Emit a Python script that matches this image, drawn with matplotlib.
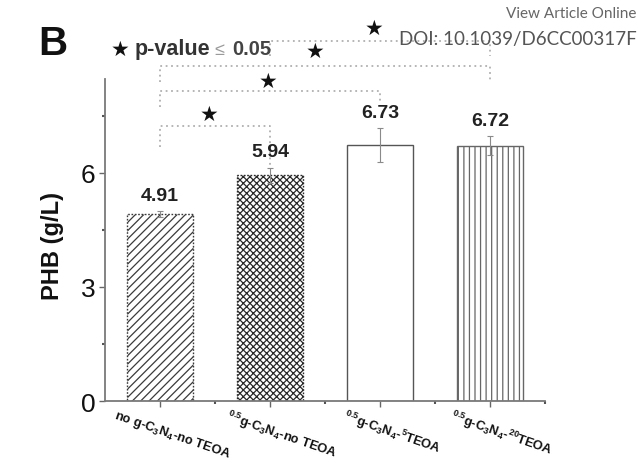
import matplotlib
matplotlib.use("Agg")
import matplotlib.pyplot as plt
import matplotlib.transforms as mtransforms
from matplotlib.ticker import FixedLocator

plt.rcParams['font.family'] = ['Liberation Sans', 'DejaVu Sans']
plt.rcParams['mathtext.fontset'] = 'custom'
plt.rcParams['mathtext.rm'] = 'Liberation Sans:bold'
plt.rcParams['mathtext.it'] = 'Liberation Sans:bold'
plt.rcParams['mathtext.bf'] = 'Liberation Sans:bold'
plt.rcParams['mathtext.default'] = 'rm'
plt.rcParams['hatch.linewidth'] = 0.9

# PHB titre per condition
categories = [
    "no g-C$_3$N$_4$-no TEOA",
    "$^{0.5}$g-C$_3$N$_4$-no TEOA",
    "$^{0.5}$g-C$_3$N$_4$-$^{5}$TEOA",
    "$^{0.5}$g-C$_3$N$_4$-$^{20}$TEOA",
]
phb = [4.91, 5.94, 6.73, 6.72]
phb_err = [0.08, 0.20, 0.45, 0.25]
value_labels = ["4.91", "5.94", "6.73", "6.72"]

y_ticks = [0, 3, 6]
y_minor = [1.5, 4.5, 7.5]

# significance brackets: (left bar, right bar, bar height, left leg end, right leg end)
brackets = [
    (0, 1, 7.24, 6.68, 6.18),
    (0, 2, 8.16, 7.74, 7.82),
    (0, 3, 8.82, 8.39, 8.39),
    (1, 3, 9.47, 9.08, 9.08),
]
star_pos = [(1.45, 7.55), (1.98, 8.42), (2.41, 9.21), (2.95, 9.82)]

hatches = ['////', 'xxxxx', '', '|||']
edge_colors = ['#3a3a3a', '#2a2a2a', '#555555', '#666666']
edge_styles = [(0, (1.2, 1.2)), (0, (1.2, 1.2)), '-', '-']

fig = plt.figure(figsize=(6.38, 4.64), dpi=100)
ax = fig.add_axes([105 / 638, 1 - 402 / 464, 440 / 638, 322 / 464])

x = [i + 1 for i in range(len(phb))]
for xi, v, h, ec, ls in zip(x, phb, hatches, edge_colors, edge_styles):
    ax.bar(xi, v, width=0.6, facecolor='white', edgecolor=ec, hatch=h,
           linewidth=1.0, linestyle=ls, zorder=2)

ax.errorbar(x, phb, yerr=phb_err, fmt='none', ecolor='#8a8a8a',
            elinewidth=0.8, capsize=2, capthick=0.8, zorder=3)

for xi, v, e, lab in zip(x, phb, phb_err, value_labels):
    ax.text(xi, v + e + 0.42, lab, ha='center', va='center', fontsize=14,
            fontweight='bold', color='#222222', zorder=4)

# dotted significance brackets with stars
for (a, b, top, la, lb), (sx, sy) in zip(brackets, star_pos):
    xa, xb = x[a], x[b]
    ax.plot([xa, xa, xb, xb], [la, top, top, lb], color='#b0b0b0', lw=1.3,
            linestyle=(0, (1, 2)), clip_on=False, zorder=1)
    ax.text(sx, sy, "★", ha='center', va='center', fontsize=15,
            family='DejaVu Sans', color='#111111', clip_on=False)

# key for the stars
ax.text(0.636, 9.26, "★", ha='center', va='center', fontsize=15,
        family='DejaVu Sans', color='#111111', clip_on=False)
ax.text(0.77, 9.26, "p-value", ha='left', va='center', fontsize=15.5,
        fontweight='bold', color='#333333', clip_on=False)
ax.text(1.49, 9.24, "≤", ha='left', va='center', fontsize=13,
        color='#9a9a9a', clip_on=False)
ax.text(1.66, 9.26, "0.05", ha='left', va='center', fontsize=14.5,
        fontweight='bold', color='#444444', clip_on=False)

ax.set_xlim(0.5, 4.5)
ax.set_ylim(0, 8.47)

for side in ['top', 'right']:
    ax.spines[side].set_visible(False)
for side in ['left', 'bottom']:
    ax.spines[side].set_color('#7a7a7a')
    ax.spines[side].set_linewidth(1.3)

ax.set_yticks(y_ticks)
ax.set_yticklabels([str(t) for t in y_ticks], fontsize=19, color='#111111')
ax.yaxis.set_minor_locator(FixedLocator(y_minor))
ax.set_xticks(x)
ax.xaxis.set_minor_locator(FixedLocator([1.5, 2.5, 3.5, 4.5]))
ax.tick_params(axis='both', which='major', direction='out', length=4,
               width=1, color='#666666')
ax.tick_params(axis='y', which='major', pad=3)
ax.tick_params(axis='both', which='minor', direction='out', length=2,
               width=1.5, color='#555555')

ax.set_xticklabels(categories, rotation=-19, ha='center', va='top',
                   fontsize=9.3, fontweight='bold', color='#111111')
ax.tick_params(axis='x', which='major', pad=0)
shift = mtransforms.ScaledTranslation(0.12, 0, fig.dpi_scale_trans)
for lab in ax.get_xticklabels():
    lab.set_transform(lab.get_transform() + shift)

fig.text(53 / 638, 1 - 246 / 464, "PHB (g/L)", rotation=90, ha='center',
         va='center', fontsize=17, fontweight='bold', color='#111111')
fig.text(38 / 638, 1 - 44 / 464, "B", ha='left', va='center', fontsize=29,
         fontweight='bold', color='#111111')

fig.text(0.998, 1 - 14 / 464, "View Article Online", ha='right', va='center',
         fontsize=11, family=['Lato', 'DejaVu Sans'], color='#666666')
fig.text(0.998, 1 - 39 / 464, "DOI: 10.1039/D6CC00317F", ha='right',
         va='center', fontsize=13.5, family=['Lato', 'DejaVu Sans'],
         color='#555555')

fig.savefig("out.png", dpi=100)
